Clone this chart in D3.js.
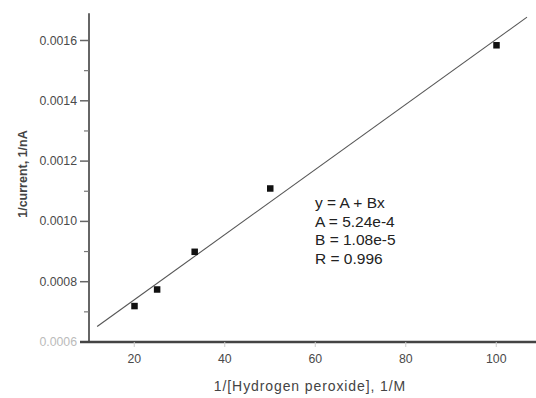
<!DOCTYPE html>
<html><head><meta charset="utf-8">
<script src="https://cdn.jsdelivr.net/npm/d3@7"></script>
<style>body{margin:0;background:#fff}svg{display:block;font-family:"Liberation Sans",Arial,sans-serif}</style>
</head><body><svg id="c" width="536" height="398"></svg>
<script>
const xValues = [20, 25, 33.3, 50, 100];
const yValues = [0.00072, 0.000775, 0.0009, 0.00111, 0.001585];
const fitA = 5.24e-4, fitB = 1.08e-5;
const fitRange = [11.8, 106.8];
const xTicks = [20, 40, 60, 80, 100];
const yTicks = [0.0006, 0.0008, 0.0010, 0.0012, 0.0014, 0.0016];
const yMinor = [0.0007, 0.0009, 0.0011, 0.0013, 0.0015];
const annotation = ["y = A + Bx", "A = 5.24e-4", "B = 1.08e-5", "R = 0.996"];
const xTitle = "1/[Hydrogen peroxide], 1/M";
const yTitle = "1/current, 1/nA";

const svg = d3.select("#c");
const x = d3.scaleLinear().domain([10, 110]).range([89, 541.5]);
const y = d3.scaleLinear().domain([0.0006, 0.0016]).range([342, 40.5]);

// y axis
const ya = svg.append("g").attr("transform", "translate(89,0)");
ya.append("line").attr("x1",0).attr("x2",0).attr("y1",y(0.00169)).attr("y2",343).attr("stroke","#666").attr("stroke-width",2);
ya.selectAll(".mj").data(yTicks).join("line").attr("x1",-9).attr("x2",0)
  .attr("y1",d=>y(d)).attr("y2",d=>y(d)).attr("stroke","#666").attr("stroke-width",1.5);
ya.selectAll(".mn").data(yMinor).join("line").attr("x1",-5).attr("x2",0)
  .attr("y1",d=>y(d)).attr("y2",d=>y(d)).attr("stroke","#777").attr("stroke-width",1.2);
ya.selectAll("text").data(yTicks).join("text").attr("x",-12).attr("y",d=>y(d)+4)
  .attr("text-anchor","end").attr("font-size",12.3)
  .attr("fill",d=>d===0.0006?"#bbb":"#4a4a4a").text(d=>d.toFixed(4));

// x axis
const xa = svg.append("g").attr("transform","translate(0,342)");
xa.append("line").attr("x1",80).attr("x2",541).attr("y1",0).attr("y2",0).attr("stroke","#444").attr("stroke-width",2.6);
xa.selectAll("line.t").data(xTicks).join("line").attr("class","t").attr("x1",d=>x(d)).attr("x2",d=>x(d))
  .attr("y1",0).attr("y2",5).attr("stroke","#ccc").attr("stroke-width",1);
xa.selectAll("text").data(xTicks).join("text").attr("x",d=>x(d)).attr("y",21)
  .attr("text-anchor","middle").attr("font-size",12.3).attr("fill","#4a4a4a").text(d=>d);

// fit line
svg.append("line").attr("x1",x(fitRange[0])).attr("y1",y(fitA+fitB*fitRange[0]))
  .attr("x2",x(fitRange[1])).attr("y2",y(fitA+fitB*fitRange[1]))
  .attr("stroke","#555").attr("stroke-width",1.1);

// points
svg.selectAll("rect.p").data(xValues).join("rect").attr("class","p")
  .attr("x",(d,i)=>x(d)-3).attr("y",(d,i)=>y(yValues[i])-3)
  .attr("width",6.5).attr("height",6.5).attr("fill","#111");

// annotation
svg.selectAll("text.ann").data(annotation).join("text").attr("class","ann")
  .attr("x",315).attr("y",(d,i)=>208+i*18.7).attr("font-size",15.5).attr("fill","#222").text(d=>d);

// titles
svg.append("text").attr("x",310).attr("y",391).attr("text-anchor","middle")
  .attr("font-size",14).attr("letter-spacing",0.9).attr("fill","#444").text(xTitle);
svg.append("text").attr("transform","translate(27,174) rotate(-90)").attr("text-anchor","middle")
  .attr("font-size",12.5).attr("font-weight","bold").attr("fill","#444").text(yTitle);
</script></body></html>
